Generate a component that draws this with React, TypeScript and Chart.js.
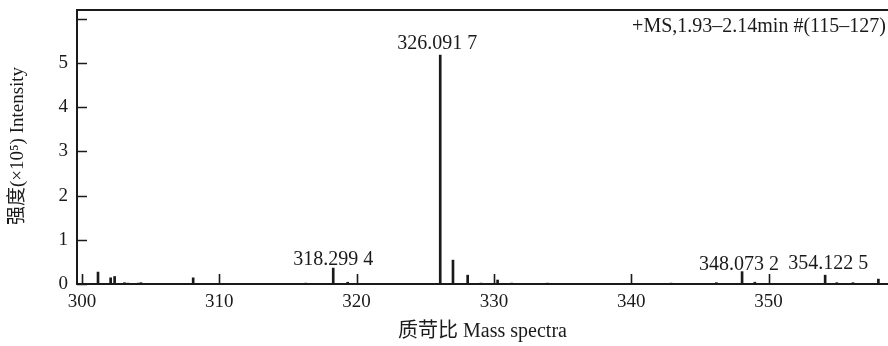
import React, { useEffect, useRef } from "react";
import { Chart, registerables } from "chart.js";

Chart.register(...registerables);

// m/z values of the peaks
const mzValues = [
  301.17, 302.09, 302.38, 303.1, 303.35, 304.1, 304.3, 308.1, 316.3, 318.2994,
  319.35, 326.0917, 327.02, 328.09, 329.06, 330.27, 331.3, 333.9, 342.9, 346.2,
  348.0732, 349.0, 354.1225, 354.97, 356.15, 358.0,
];
// intensities (x10^5)
const intensities = [
  0.27, 0.14, 0.17, 0.03, 0.02, 0.02, 0.03, 0.14, 0.02, 0.36,
  0.04, 5.18, 0.54, 0.2, 0.02, 0.09, 0.02, 0.02, 0.02, 0.03,
  0.28, 0.04, 0.2, 0.03, 0.03, 0.11,
];

const labeledPeaks = [318.2994, 326.0917, 348.0732, 354.1225];
const peakLabels = ["318.299 4", "326.091 7", "348.073 2", "354.122 5"];

const xTicks = [300, 310, 320, 330, 340, 350];
const yTicks = [0, 1, 2, 3, 4, 5, 6];
const yTickLabels = ["0", "1", "2", "3", "4", "5", ""];

const spectrumTitle = "+MS,1.93–2.14min #(115–127)";
const xTitle = "质苛比 Mass spectra";
const yTitle = "强度(×10⁵) Intensity";

const SERIF = '"Liberation Serif", "Noto Sans CJK SC", serif';
const INK = "#1a1a1a";

const decorPlugin = {
  id: "decor",
  afterDraw(chart: any) {
    const { ctx, chartArea, scales } = chart;
    const xs = scales.x;
    const ys = scales.y;
    ctx.save();
    // top border
    ctx.strokeStyle = INK;
    ctx.lineWidth = 2;
    ctx.beginPath();
    ctx.moveTo(chartArea.left - 1, chartArea.top);
    ctx.lineTo(chartArea.right, chartArea.top);
    ctx.stroke();
    // inside ticks
    ctx.lineWidth = 1.6;
    ctx.beginPath();
    xTicks.forEach((v) => {
      const px = Math.round(xs.getPixelForValue(v)) + 0.5;
      ctx.moveTo(px, chartArea.bottom);
      ctx.lineTo(px, chartArea.bottom - 10);
    });
    yTicks.forEach((v) => {
      const py = Math.round(ys.getPixelForValue(v)) + 0.5;
      ctx.moveTo(chartArea.left, py);
      ctx.lineTo(chartArea.left + 10, py);
    });
    ctx.stroke();

    ctx.fillStyle = INK;
    ctx.font = `20px ${SERIF}`;
    // peak labels
    ctx.textAlign = "center";
    ctx.textBaseline = "alphabetic";
    const shifts = [0, -3, -3, 3];
    const lifts = [3, 6, 2, 6];
    labeledPeaks.forEach((mz, i) => {
      const idx = mzValues.indexOf(mz);
      const px = xs.getPixelForValue(mz) + shifts[i];
      const py = ys.getPixelForValue(intensities[idx]);
      ctx.fillText(peakLabels[i], px, py - lifts[i]);
    });
    // spectrum annotation
    ctx.textAlign = "right";
    ctx.textBaseline = "middle";
    ctx.fillText(spectrumTitle, chartArea.right - 2, chartArea.top + 17);
    // x title
    ctx.textAlign = "center";
    ctx.fillText(xTitle, (chartArea.left + chartArea.right) / 2, 332);
    // y title
    ctx.save();
    ctx.font = `19px ${SERIF}`;
    ctx.translate(18, 146);
    ctx.rotate(-Math.PI / 2);
    ctx.fillText(yTitle, 0, 0);
    ctx.restore();
    ctx.restore();
  },
};

export default function App() {
  const ref = useRef<HTMLCanvasElement | null>(null);
  useEffect(() => {
    if (!ref.current) return;
    const chart = new Chart(ref.current, {
      type: "bar",
      data: {
        datasets: [
          {
            data: mzValues.map((x, i) => ({ x, y: intensities[i] })),
            backgroundColor: INK,
            borderWidth: 0,
            barThickness: 2,
          },
        ],
      },
      options: {
        animation: false,
        responsive: true,
        maintainAspectRatio: false,
        layout: { padding: { top: 10, right: 0, left: 0, bottom: 0 } },
        plugins: { legend: { display: false }, tooltip: { enabled: false } },
        scales: {
          x: {
            type: "linear",
            min: 299.64,
            max: 358.7,
            offset: false,
            afterFit: (s: any) => {
              s.height = 62;
              s.paddingLeft = 0;
              s.paddingRight = 0;
            },
            grid: { display: true, drawOnChartArea: false, drawTicks: false },
            border: { display: true, color: INK, width: 2 },
            ticks: {
              includeBounds: false,
              stepSize: 10,
              padding: 7,
              color: INK,
              font: { family: SERIF, size: 19 },
              maxRotation: 0,
            },
          },
          y: {
            min: 0,
            max: 6.2,
            afterFit: (s: any) => {
              s.width = 77;
              s.paddingTop = 0;
              s.paddingBottom = 0;
            },
            grid: { display: true, drawOnChartArea: false, drawTicks: false },
            border: { display: true, color: INK, width: 2 },
            ticks: {
              includeBounds: false,
              stepSize: 1,
              padding: 9,
              color: INK,
              font: { family: SERIF, size: 19 },
              callback: (v: any) => {
                const i = yTicks.indexOf(Number(v));
                return i >= 0 ? yTickLabels[i] : "";
              },
            },
          },
        },
      },
      plugins: [decorPlugin],
    } as any);
    return () => chart.destroy();
  }, []);
  return (
    <div style={{ position: "absolute", left: 0, top: 0, width: 888, height: 346, background: "#fff" }}>
      <canvas ref={ref} />
    </div>
  );
}
